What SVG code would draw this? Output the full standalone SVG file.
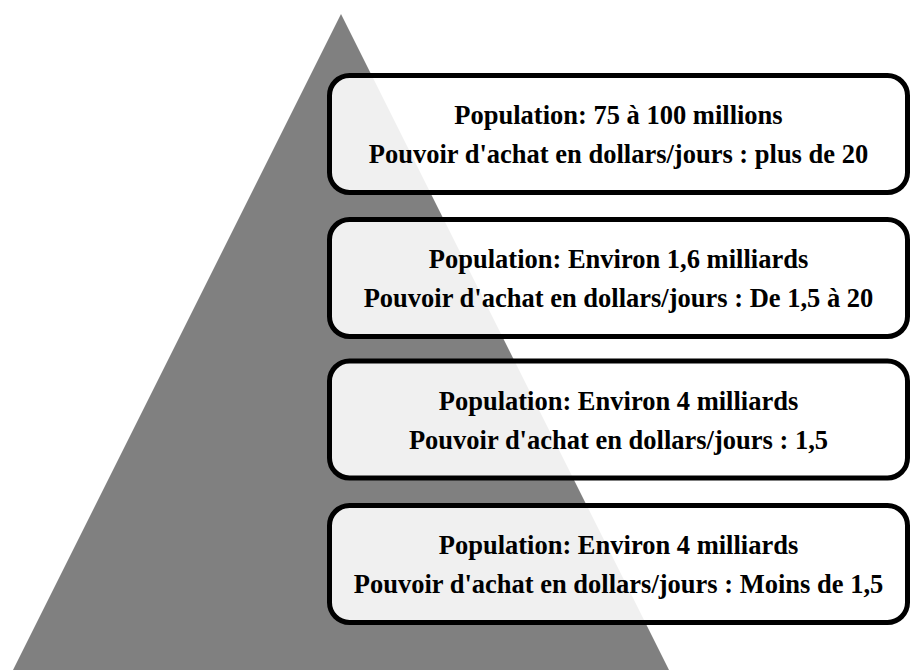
<svg xmlns="http://www.w3.org/2000/svg" width="911" height="670" viewBox="0 0 911 670">
  <style>
    .box { fill: #ffffff; fill-opacity: 0.88; stroke: #000000; stroke-width: 5; }
    .t { font-family: "Liberation Serif", "Times New Roman", serif; font-weight: bold; font-size: 26.5px; fill: #000000; text-anchor: middle; }
  </style>
  <rect x="0" y="0" width="911" height="670" fill="#ffffff"/>
  <g id="pyramid">
    <polygon points="341,14 13,670 669,670" fill="#808080"/>
  </g>
  <g id="connectors"></g>
  <g id="level1">
    <rect class="box" x="329.5" y="75.5" width="578" height="117" rx="20" ry="20"/>
    <text class="t" x="618.5" y="124">Population: 75 à 100 millions</text>
    <text class="t" x="618.5" y="163">Pouvoir d'achat en dollars/jours : plus de 20</text>
  </g>
  <g id="level2">
    <rect class="box" x="329.5" y="219.5" width="578" height="117" rx="20" ry="20"/>
    <text class="t" x="618.5" y="268">Population: Environ 1,6 milliards</text>
    <text class="t" x="618.5" y="307">Pouvoir d'achat en dollars/jours : De 1,5 à 20</text>
  </g>
  <g id="level3">
    <rect class="box" x="329.5" y="361" width="578" height="117" rx="20" ry="20"/>
    <text class="t" x="618.5" y="410">Population: Environ 4 milliards</text>
    <text class="t" x="618.5" y="449">Pouvoir d'achat en dollars/jours : 1,5</text>
  </g>
  <g id="level4">
    <rect class="box" x="329.5" y="505.5" width="578" height="117" rx="20" ry="20"/>
    <text class="t" x="618.5" y="554">Population: Environ 4 milliards</text>
    <text class="t" x="618.5" y="593">Pouvoir d'achat en dollars/jours : Moins de 1,5</text>
  </g>
</svg>
